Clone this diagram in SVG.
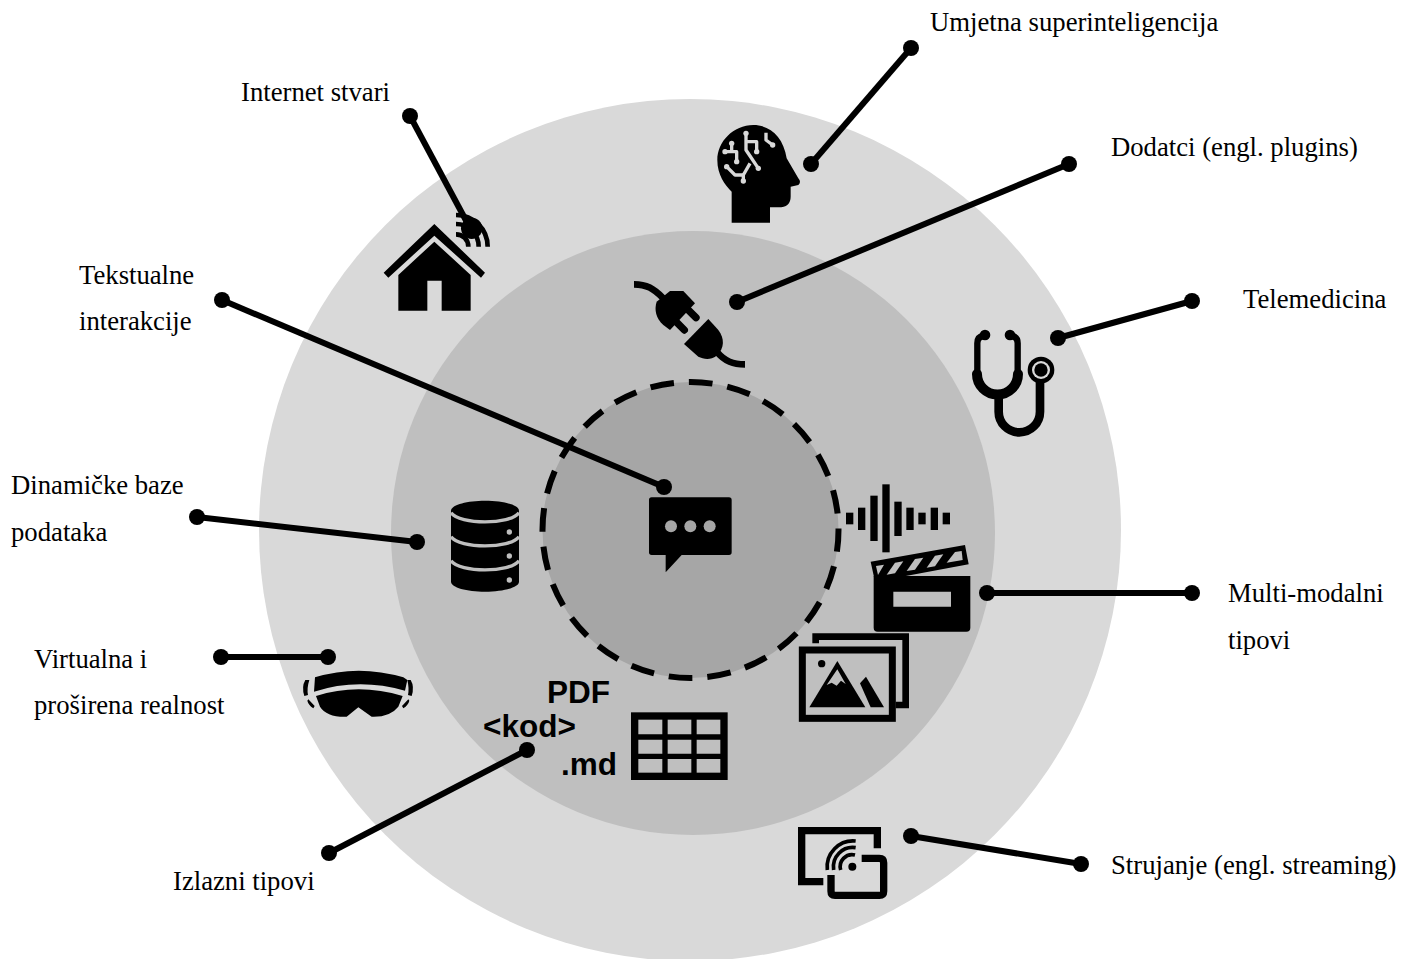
<svg xmlns="http://www.w3.org/2000/svg" width="1413" height="959" viewBox="0 0 1413 959">
<style>
.l{font-family:"Liberation Serif","Times New Roman",serif;font-size:26.7px;fill:#000}
.b{font-family:"Liberation Sans",Arial,sans-serif;font-size:31.5px;font-weight:700;fill:#000}
.c line{stroke:#000;stroke-width:6}
.c circle{fill:#000}
.s{fill:none;stroke:#000}
.t{fill:none;stroke:#D9D9D9;stroke-width:10;stroke-linejoin:round}
.td{fill:#D9D9D9}
</style>
<rect width="1413" height="959" fill="#fff"/>
<g id="rings">
<circle cx="690" cy="530" r="431" fill="#D9D9D9"/>
<circle cx="693" cy="533" r="302" fill="#BFBFBF"/>
<circle cx="690.5" cy="530" r="148" fill="#A6A6A6" stroke="#000" stroke-width="6" stroke-dasharray="23.75 15" stroke-dashoffset="2"/>
</g>
<g id="icon-iot" transform="translate(370 100) scale(.33333)">
<path d="M193 372L345 518L333 533L193 407L55 533L41 518Z"/>
<path d="M193 425L302 525V632H215V542H172V632H85V525Z"/>
<g class="s" stroke-width="14"><path d="M258 345A95 95 0 0 1 353 440"/><path d="M258 372A68 68 0 0 1 326 440"/><path d="M258 403A37 37 0 0 1 295 440"/></g>
<circle cx="305" cy="385" r="32"/>
</g>
<g id="icon-asi" transform="translate(370 100) scale(.33333)">
<path d="M1085 368H1200V322H1225Q1262 322 1262 290V260L1285 255Q1295 245 1285 235L1250 175C1240 110 1200 75 1150 75C1090 75 1042 125 1042 180C1042 225 1065 255 1085 275Z"/>
<g class="t"><path d="M1128 100V150L1165 205"/><path d="M1128 125H1160V155"/><path d="M1065 155H1100V185"/><path d="M1085 130V155"/><path d="M1070 200L1095 225H1120V243"/><path d="M1120 225L1140 190"/><path d="M1188 98V120L1208 135"/></g>
<g class="td"><circle cx="1128" cy="100" r="8"/><circle cx="1165" cy="205" r="8"/><circle cx="1160" cy="155" r="8"/><circle cx="1065" cy="155" r="8"/><circle cx="1100" cy="185" r="8"/><circle cx="1085" cy="130" r="8"/><circle cx="1070" cy="200" r="8"/><circle cx="1120" cy="243" r="8"/><circle cx="1208" cy="135" r="8"/></g>
</g>
<g id="icon-plugin" transform="translate(370 100) scale(.33333)">
<path d="M792 553C830 553 850 565 880 595" class="s" stroke-width="20"/>
<path d="M1040 755C1065 785 1090 793 1125 793" class="s" stroke-width="20"/>
<path d="M900 573H940L975 610L900 690L880 675C858 655 852 630 860 605Z"/>
<path d="M950 625L978 653M915 662L943 690" class="s" stroke-width="22" stroke-linecap="round"/>
<path d="M1015 657L1045 690C1064 715 1064 745 1040 767C1020 782 1000 777 985 770L942 732Z"/>
</g>
<g id="icon-telemed" transform="translate(960 320) scale(.33333)">
<circle cx="75" cy="45" r="16"/><circle cx="150" cy="45" r="16"/>
<path d="M70 48Q52 50 52 70V160M155 48Q173 50 173 70V160" class="s" stroke-width="19"/>
<path d="M51 162A61 61 0 0 0 174 162" class="s" stroke-width="30" stroke-linecap="round"/>
<path d="M116 225V275A62 62 0 0 0 240 275V185" class="s" stroke-width="26"/>
<circle cx="243" cy="150" r="40"/><circle cx="243" cy="150" r="27" fill="#D9D9D9"/><circle cx="243" cy="150" r="20"/>
</g>
<g id="icon-chat" transform="translate(440 490) scale(.33333)">
<path d="M635 22H867Q875 22 875 30V187Q875 195 867 195H725L677 247V195H635Q627 195 627 187V30Q627 22 635 22Z"/>
<g fill="#A6A6A6"><circle cx="693" cy="109" r="18"/><circle cx="751" cy="109" r="18"/><circle cx="809" cy="109" r="18"/></g>
</g>
<g id="icon-db" transform="translate(440 490) scale(.33333)">
<path d="M33 62C33 45 80 32 135 32S237 45 237 62V275C237 292 190 305 135 305S33 292 33 275Z"/>
<path d="M33 68C60 105 210 105 237 68M33 140C60 177 210 177 237 140M33 212C60 249 210 249 237 212" fill="none" stroke="#BFBFBF" stroke-width="10"/>
<g fill="#BFBFBF"><circle cx="208" cy="126" r="8"/><circle cx="208" cy="198" r="8"/><circle cx="208" cy="270" r="8"/></g>
</g>
<g id="icon-multimodal" transform="translate(780 460) scale(.33333)">
<g><rect x="198" y="158" width="22" height="35"/><rect x="234" y="143" width="22" height="67"/><rect x="271" y="107" width="22" height="136"/><rect x="307" y="73" width="22" height="204"/><rect x="343" y="125" width="22" height="103"/><rect x="379" y="143" width="22" height="67"/><rect x="415" y="158" width="22" height="35"/><rect x="452" y="143" width="22" height="67"/><rect x="488" y="158" width="22" height="35"/></g>
<path d="M272 305L555 255L566 313L285 365Z"/>
<g fill="#BFBFBF"><path d="M288 318L312 314L294 345Z"/><path d="M345 308L370 304L345 340L320 344Z"/><path d="M405 297L430 293L405 329L380 333Z"/><path d="M465 287L490 283L465 319L440 323Z"/><path d="M525 276L545 273L548 300L500 308Z"/></g>
<path d="M281 348H571V503Q571 515 559 515H293Q281 515 281 503ZM340 395V440H513V395Z" fill-rule="evenodd"/>
<path d="M107 550V530H377V735H347" class="s" stroke-width="20"/>
<rect x="67" y="570" width="270" height="205" class="s" stroke-width="21"/>
<circle cx="125" cy="611" r="11"/>
<path d="M88 742L172 603L256 742Z"/>
<path d="M140 675L172 628L197 672L183 662L170 677L155 668Z" fill="#BFBFBF"/>
<path d="M240 670L258 650L312 742H272Z"/>
</g>
<g id="icon-vr" transform="translate(290 660) scale(.33333)">
<path d="M75 52Q205 12 340 52L352 60L345 92Q205 52 72 95Z"/>
<path d="M78 108Q205 68 338 108L325 140Q300 172 245 170L205 142L170 170Q110 172 90 140Z"/>
<path d="M46 60Q34 80 43 108L54 105Q50 85 58 60ZM362 60Q374 80 365 108L354 105Q358 85 352 60Z"/>
<path d="M55 118L74 138L70 145Q55 135 52 122ZM355 118L336 138L340 145Q355 135 358 122Z"/>
</g>
<g id="icon-output">
<text class="b" x="547" y="703">PDF</text>
<text class="b" x="483" y="737">&lt;kod&gt;</text>
<text class="b" x="561" y="775">.md</text>
<g transform="translate(290 660) scale(.33333)"><rect x="1034" y="168" width="268" height="181" class="s" stroke-width="22"/><path d="M1125 167V350M1212 167V350M1033 231H1303M1033 289H1303" class="s" stroke-width="16"/></g>
</g>
<g id="icon-stream" transform="translate(790 810) scale(.33333)">
<path d="M100 215H35V62H262V115" class="s" stroke-width="22"/>
<path d="M215 145H268Q281 145 281 158V244Q281 256 268 256H135Q123 256 123 244V195" class="s" stroke-width="22"/>
<circle cx="187" cy="170" r="12"/>
<path d="M152 180A36 36 0 0 1 195 135M131 180A58 58 0 0 1 197 113M112 180A78 78 0 0 1 197 93" class="s" stroke-width="11"/>
</g>
<g id="connectors" class="c">
<line x1="410" y1="116" x2="470" y2="228"/><circle cx="410" cy="116" r="8"/>
<line x1="911" y1="48" x2="811" y2="164"/><circle cx="911" cy="48" r="8"/><circle cx="811" cy="164" r="8"/>
<line x1="1069" y1="164" x2="737" y2="302"/><circle cx="1069" cy="164" r="8"/><circle cx="737" cy="302" r="8"/>
<line x1="1192" y1="301" x2="1058" y2="338"/><circle cx="1192" cy="301" r="8"/><circle cx="1058" cy="338" r="8"/>
<line x1="222" y1="300" x2="664" y2="487"/><circle cx="222" cy="300" r="8"/><circle cx="664" cy="487" r="8"/>
<line x1="197" y1="517" x2="417" y2="542"/><circle cx="197" cy="517" r="8"/><circle cx="417" cy="542" r="8"/>
<line x1="221" y1="657" x2="328" y2="657"/><circle cx="221" cy="657" r="8"/><circle cx="328" cy="657" r="8"/>
<line x1="329" y1="853" x2="527" y2="750"/><circle cx="329" cy="853" r="8"/><circle cx="527" cy="750" r="8"/>
<line x1="1192" y1="593" x2="987" y2="593"/><circle cx="1192" cy="593" r="8"/><circle cx="987" cy="593" r="8"/>
<line x1="1081" y1="864" x2="911" y2="836"/><circle cx="1081" cy="864" r="8"/><circle cx="911" cy="836" r="8"/>
</g>
<g id="labels">
<text class="l" x="930" y="31">Umjetna superinteligencija</text>
<text class="l" x="241" y="101">Internet stvari</text>
<text class="l" x="1111" y="156">Dodatci (engl. plugins)</text>
<text class="l" x="1243" y="308">Telemedicina</text>
<text class="l" x="79" y="284">Tekstualne</text>
<text class="l" x="79" y="330">interakcije</text>
<text class="l" x="11" y="494">Dinamičke baze</text>
<text class="l" x="11" y="541">podataka</text>
<text class="l" x="1228" y="602">Multi-modalni</text>
<text class="l" x="1228" y="649">tipovi</text>
<text class="l" x="34" y="668">Virtualna i</text>
<text class="l" x="34" y="714">proširena realnost</text>
<text class="l" x="173" y="890">Izlazni tipovi</text>
<text class="l" x="1111" y="874">Strujanje (engl. streaming)</text>
</g>
</svg>
